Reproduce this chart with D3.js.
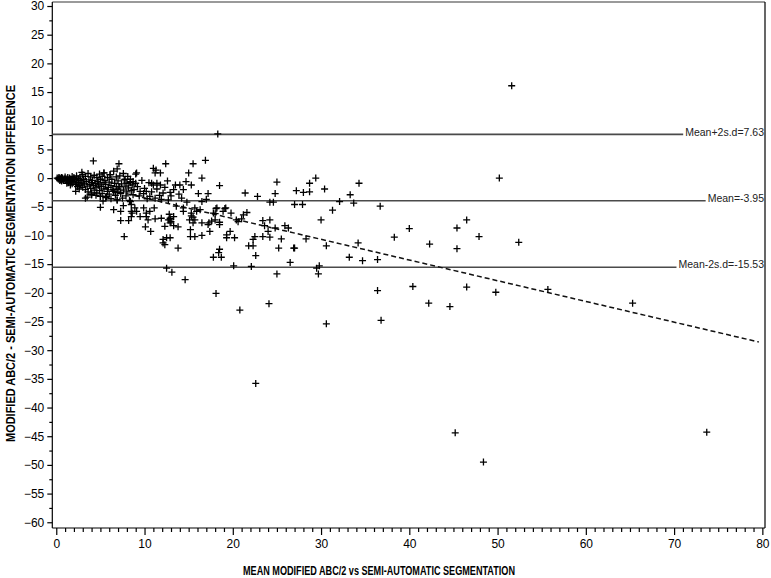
<!DOCTYPE html>
<html><head><meta charset="utf-8">
<script src="https://cdn.jsdelivr.net/npm/d3@7"></script>
<style>body{margin:0;background:#fff}svg{display:block}</style>
</head><body>
<svg id="c" width="771" height="578"></svg>
<script>
// ---- data ----
const xTicks = [0,10,20,30,40,50,60,70,80];
const yTicks = [30,25,20,15,10,5,0,-5,-10,-15,-20,-25,-30,-35,-40,-45,-50,-55,-60];
const limitValues = [7.63, -3.95, -15.53];
const limitLabels = ["Mean+2s.d=7.63", "Mean=-3.95", "Mean-2s.d=-15.53"];
const regression = [0.16, -0.361]; // intercept, slope
const regRange = [0, 79.6];
const xTitle = "MEAN MODIFIED ABC/2 vs SEMI-AUTOMATIC SEGMENTATION";
const yTitle = "MODIFIED ABC/2 - SEMI-AUTOMATIC SEGMENTATION DIFFERENCE";

const clusterPoints = [
[0.1,0.0],[0.2,-0.1],[0.3,0.1],[0.3,-0.2],[0.4,0.0],[0.5,-0.1],[0.5,-0.3],[0.6,0.1],[0.7,-0.2],[0.7,0.0],[0.8,-0.4],[0.9,-0.1],[1.0,0.2],[1.0,-0.3],[0.6,-0.5],[0.4,-0.4],
[1.1,-0.1],[1.2,-0.5],[1.3,0.1],[1.3,-0.3],[1.4,-0.8],[1.5,0.0],[1.5,-0.4],[1.6,-0.2],[1.7,-0.6],[1.8,0.3],[1.8,-1.0],[1.9,-0.3],[2.0,-0.7],[2.0,0.1],[1.2,-0.9],[1.6,-1.2],
[2.1,-0.2],[2.2,-1.1],[2.3,0.4],[2.3,-0.5],[2.4,-1.5],[2.5,-0.1],[2.5,-0.8],[2.6,-1.9],[2.7,0.2],[2.7,-0.4],[2.8,-1.2],[2.9,-0.7],[3.0,0.6],[3.0,-1.6],[2.2,-2.3],[2.6,-1.3],
[3.1,-0.2],[3.2,-1.0],[3.3,0.3],[3.3,-2.0],[3.4,-0.6],[3.5,-1.4],[3.6,0.8],[3.6,-2.4],[3.7,-0.3],[3.8,-1.1],[3.9,0.2],[3.9,-1.8],[4.0,-0.8],[4.0,-2.9],[3.5,-3.3],
[4.1,-0.4],[4.2,-1.3],[4.3,0.5],[4.3,-2.1],[4.4,-0.9],[4.5,-1.7],[4.6,0.1],[4.6,-2.6],[4.7,-0.6],[4.8,-1.2],[4.9,0.7],[4.9,-2.2],[5.0,-0.2],[5.0,-3.2],[4.5,-3.0],[4.8,-1.0],
[5.1,-1.5],[5.2,0.3],[5.2,-2.7],[5.3,-0.8],[5.4,0.9],[5.4,-1.9],[5.5,-0.4],[5.6,-3.4],[5.6,-1.1],[5.7,-3.2],[5.8,0.1],[5.8,-2.3],[5.9,-1.6],[6.0,-0.7],[6.0,-2.8],[5.3,-4.0],
[6.1,0.6],[6.2,-1.3],[6.2,-3.6],[6.3,-0.2],[6.4,-2.0],[6.5,-2.3],[6.5,1.2],[6.6,-0.9],[6.7,-3.0],[6.8,-1.5],[6.8,0.2],[6.9,-3.8],[6.9,-2.5],[7.0,-0.5],[7.0,-1.9],
[7.1,-1.5],[7.2,0.4],[7.3,-2.7],[7.4,-1.0],[7.5,-3.5],[7.6,0.8],[7.6,-2.1],[7.7,-0.3],[7.8,-1.4],[7.9,-3.1],[8.0,-0.9],[8.0,-2.4],[8.1,0.3],[8.2,-1.7],[8.3,-3.9],[8.4,-0.8],[8.5,-2.2],
[4.2,3.0],[7.1,2.5],[6.9,1.6],[2.9,1.0],[5.4,0.9],[6.1,0.6],[8.4,-0.2],[4.0,-2.9],[5.0,-5.1],[6.5,-5.5],[7.3,-5.8],[7.6,-4.8],[8.6,-6.1],[7.3,-7.4],[8.2,-7.4],[5.7,-3.2],[6.9,-3.8],[8.4,-4.1],
[11.3,1.4],[9.0,0.7],[7.8,-0.2],[8.4,-0.6],[10.8,-0.9],[7.2,-1.5],[6.5,-2.3],[4.0,-2.6],[3.3,-3.5],[5.0,-3.2],[8.5,-5.8],[7.7,-10.2],[9.9,-5.2],[10.2,-6.1]
];

const midPoints = [
[12.4,2.5],[15.5,2.5],[16.9,3.1],[15.0,0.9],[16.5,0.0],[11.0,1.7],[11.2,0.9],[11.8,0.9],[9.1,0.9],[8.7,-0.6],[9.0,-0.9],[11.4,-0.9],[11.0,-1.2],[11.8,-1.2],[13.5,-1.2],[14.0,-1.2],[14.4,-2.0],[15.3,-1.2],[13.3,-2.0],[12.9,-2.5],[12.1,-2.6],[10.2,-2.3],[9.9,-2.7],[9.5,-2.3],[8.7,-2.9],[10.6,-3.2],[11.2,-3.5],[11.9,-3.7],[12.7,-3.8],[16.1,-2.7],[17.2,-2.7],[16.5,-4.1],[14.8,-4.2],[13.6,-4.9],[14.4,-5.2],[8.5,-4.6],[8.9,-5.2],[9.1,-5.8],[8.5,-6.7],[9.5,-6.7],[10.2,-6.7],[10.6,-5.8],[11.1,-5.2],[10.4,-7.3],[11.2,-7.1],[11.9,-7.0],[12.9,-7.3],[13.3,-6.7],[15.3,-6.1],[15.7,-7.3],[16.3,-5.5],[17.2,-8.1],[17.8,-6.1],[12.9,-7.8],[13.3,-8.3],[13.8,-8.5],[15.1,-7.3],[15.5,-7.8],[15.2,-9.0],[15.2,-10.2],[15.7,-10.2],[16.5,-10.0],[10.1,-8.5],[10.7,-9.3],[12.5,-10.4],[12.9,-10.4],[12.1,-11.3],[13.8,-12.2],
[12.3,-8.4],[12.1,-10.7],[12.3,-11.6],[15.3,-6.6],[15.9,-5.8],[16.5,-7.8],[18.9,-5.8],[20.4,-7.3],[17.4,-9.3],[19.3,-9.9],[15.7,-5.2],[14.4,-5.8],[15.5,-6.8],
[8.6,-1.2],[8.8,-2.0],[9.2,-1.5],[9.4,-3.1],[9.7,-0.4],[10.0,-1.8],[10.3,-3.6],[10.5,-0.8],[10.8,-2.4],[11.4,-1.9],[11.7,-3.0],[12.3,-1.6],[12.6,-0.5],[13.0,-3.1],[13.9,-2.8],[14.2,-3.5],[14.7,-0.6],[12.8,-6.3],[12.9,-7.0],[13.0,-7.6],[12.7,-7.3],
[18.5,-1.3],[25.0,-0.7],[21.4,-2.6],[22.8,-3.2],[24.8,-2.7],[24.2,-4.2],[24.6,-4.2],[18.1,-5.3],[19.1,-5.3],[19.8,-6.1],[18.0,-6.2],[17.6,-7.5],[18.5,-7.7],[20.6,-7.6],[21.2,-6.4],[21.6,-6.0],[23.4,-7.4],[24.2,-7.3],[23.6,-8.3],[24.8,-8.7],[25.9,-8.3],[26.3,-8.7],[24.0,-9.3],[19.7,-9.3],[19.3,-10.4],[20.2,-10.4],[22.5,-10.2],[23.4,-10.2],[24.2,-10.3],[25.5,-10.6],[22.3,-10.7],[21.8,-11.8],[22.3,-11.8],[25.2,-12.2],[26.9,-12.2],[18.5,-12.4],[18.4,-13.0],[22.6,-13.5],[17.8,-13.8],[18.7,-13.8],[17.3,-7.8],[18.2,-5.2],[19.2,-5.2],[17.0,-3.7],[18.0,-7.3],[18.5,-8.1],[21.0,-7.1]
];

const outerPoints = [
[51.6,16.1],[50.2,0.0],[34.3,-0.9],[33.3,-2.9],[33.7,-4.35],[31.3,-5.6],[36.7,-4.9],[32.1,-4.1],[46.5,-7.3],[45.4,-8.7],[40.0,-8.8],[38.3,-10.3],[47.9,-10.2],[52.4,-11.2],[42.3,-11.5],[45.4,-12.3],[34.2,-11.3],[33.2,-13.8],[34.7,-14.4],[36.4,-14.2],[36.4,-19.6],[40.4,-18.9],[46.5,-19.0],[49.8,-19.9],[55.7,-19.4],[42.2,-21.8],[44.6,-22.4],[36.8,-24.8],[65.3,-21.8],[22.6,-35.8],[45.2,-44.4],[48.4,-49.5],[73.7,-44.3],[18.3,7.7],
[12.5,-15.7],[13.1,-16.4],[14.6,-17.7],[18.1,-20.1],[20.8,-23.0],[24.1,-21.9],[25.0,-16.7],[20.1,-15.3],[22.1,-15.4],[26.5,-14.7],[29.5,-15.7],[29.8,-15.3],[29.7,-16.7],[30.6,-25.4],
[30.0,-7.3],[27.2,-2.2],[28.0,-2.5],[28.7,-2.4],[28.7,-0.9],[29.4,0.0],[30.4,-1.9],[27.0,-4.6],[27.9,-4.6],[28.3,-10.6],[27.0,-12.2],[30.6,-11.8]
];

// ---- drawing ----
(function () {
const svg = d3.select("#c");
const font = "'Liberation Sans', Arial, sans-serif";
const pL = 52.3, pR = 765, pT = 2, pB = 528;
const x = d3.scaleLinear().domain([-0.45, 80.3]).range([pL, pR]);
const y = d3.scaleLinear().domain([-61, 30.7]).range([pB, pT]);

// frame
svg.append("line").attr("x1", pL).attr("x2", pR).attr("y1", pT).attr("y2", pT)
  .attr("stroke", "#9a9a9a").attr("stroke-width", 2);
svg.append("line").attr("x1", pR).attr("x2", pR).attr("y1", pT).attr("y2", pB)
  .attr("stroke", "#000").attr("stroke-width", 1.2);

// y axis
const yMinor = d3.range(-57.5, 30, 5);
const gy = svg.append("g").attr("transform", `translate(${pL},0)`);
gy.call(d3.axisLeft(y).tickValues(yTicks).tickSize(5).tickSizeOuter(0).tickPadding(3));
gy.append("g").call(d3.axisLeft(y).tickValues(yMinor).tickSize(3).tickFormat(""))
  .select(".domain").remove();
gy.select(".domain").attr("d", `M0,${pT}V${pB}`);
gy.selectAll("text").attr("font-family", font).attr("font-size", 12).attr("fill", "#000");
gy.selectAll("line,path").attr("stroke", "#000").attr("stroke-width", 1.2);

// x axis
const xMinor = d3.range(1, 80, 1).filter(v => v % 10 !== 0);
const gx = svg.append("g").attr("transform", `translate(0,${pB})`);
gx.call(d3.axisBottom(x).tickValues(xTicks).tickSize(7).tickSizeOuter(0).tickPadding(4));
gx.append("g").call(d3.axisBottom(x).tickValues(xMinor).tickSize(4).tickFormat(""))
  .select(".domain").remove();
gx.select(".domain").attr("d", `M${pL},0H${pR}`);
gx.selectAll("text").attr("font-family", font).attr("font-size", 12).attr("fill", "#000");
gx.selectAll("line,path").attr("stroke", "#000").attr("stroke-width", 1.2);

// titles
svg.append("text").attr("x", 379).attr("y", 575).attr("text-anchor", "middle")
  .attr("font-family", font).attr("font-weight", "bold").attr("font-size", 13)
  .attr("textLength", 272).attr("lengthAdjust", "spacingAndGlyphs").text(xTitle);
svg.append("text").attr("transform", "translate(14.5,263.5) rotate(-90)").attr("text-anchor", "middle")
  .attr("font-family", font).attr("font-weight", "bold").attr("font-size", 13.5)
  .attr("textLength", 357).attr("lengthAdjust", "spacingAndGlyphs").text(yTitle);

// limit lines
limitValues.forEach((v, i) => {
  const t = svg.append("text").attr("x", pR - 1).attr("y", y(v) + 1.2).attr("text-anchor", "end")
    .attr("font-family", font).attr("font-size", 10.5).attr("fill", "#222").text(limitLabels[i]);
  const w = t.node().getComputedTextLength();
  svg.append("line").attr("x1", pL).attr("x2", pR - 1 - w - 2)
    .attr("y1", y(v)).attr("y2", y(v)).attr("stroke", "#4a4a4a").attr("stroke-width", 1.6);
});

// regression line
svg.append("line")
  .attr("x1", x(regRange[0])).attr("y1", y(regression[0] + regression[1] * regRange[0]))
  .attr("x2", x(regRange[1])).attr("y2", y(regression[0] + regression[1] * regRange[1]))
  .attr("stroke", "#111").attr("stroke-width", 1.5).attr("stroke-dasharray", "5,3");

// points
const allPoints = clusterPoints.concat(midPoints, outerPoints);
svg.append("g").selectAll("path").data(allPoints).join("path")
  .attr("transform", d => `translate(${x(d[0])},${y(d[1])})`)
  .attr("d", "M-3.5,0H3.5M0,-3.5V3.5")
  .attr("stroke", "#000").attr("stroke-width", 1.3).attr("fill", "none");
})();
</script>
</body></html>
